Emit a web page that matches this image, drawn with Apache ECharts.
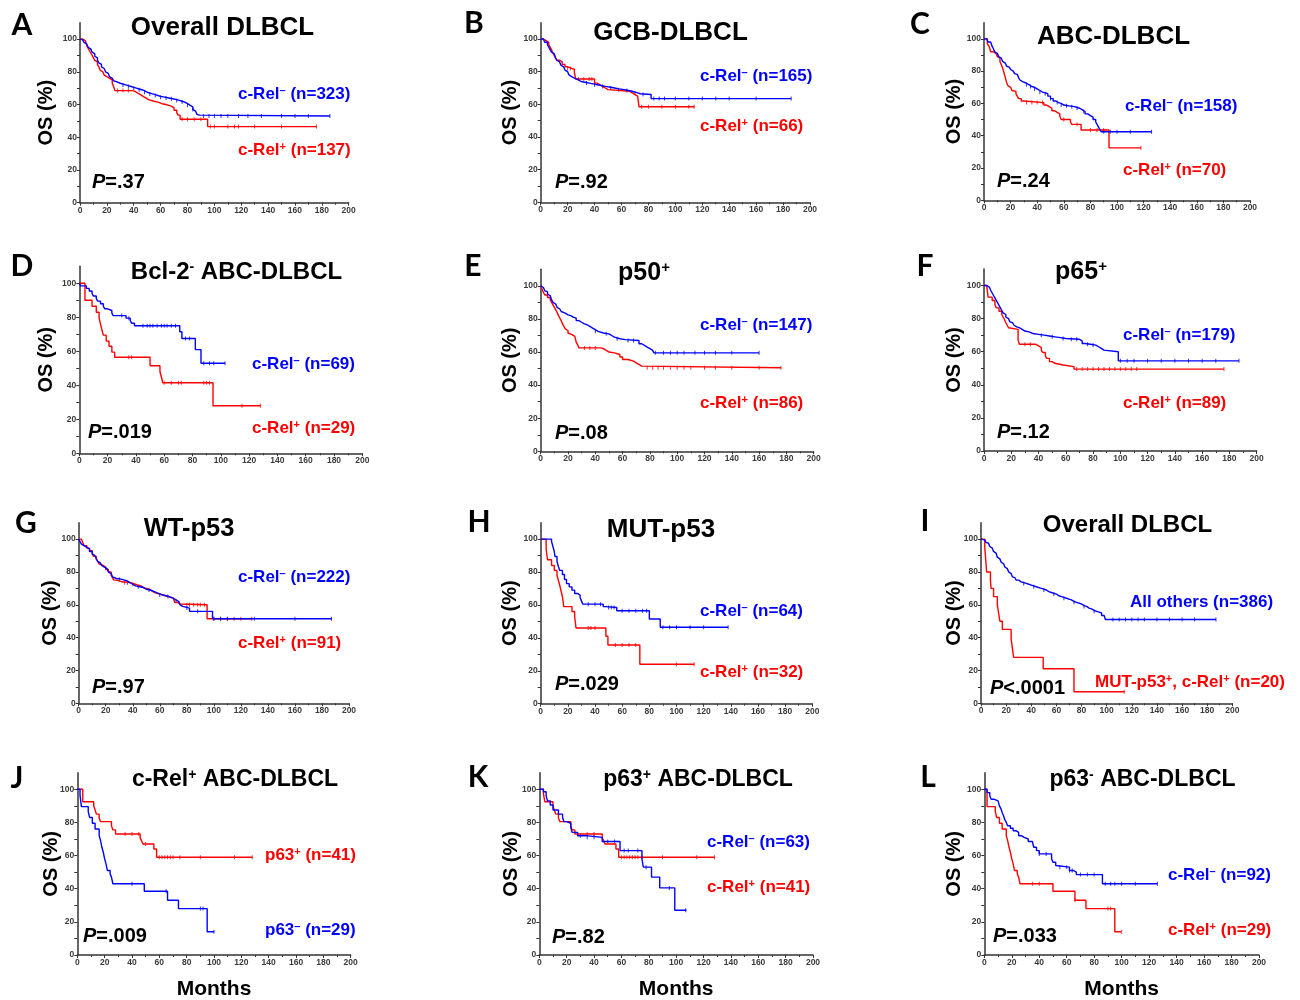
<!DOCTYPE html>
<html>
<head>
<meta charset="utf-8">
<script src="https://cdn.jsdelivr.net/npm/echarts@6/dist/echarts.min.js"></script>
<style>
html, body { margin: 0; padding: 0; background: #fff; }
#main { width: 1300px; height: 1000px; }
</style>
</head>
<body>
<div id="main"></div>
<script>
// ---- 生存曲线数据 [月, OS%] ----
var aNeg = [[0,100],[1,99.5],[2,99],[3,98],[4,97],[5,96],[6,95],[7,94],[8,93],[9,92],[10,91],[11,89.5],[12,88.5],[13,87],[14,85.5],[15,84.5],[16,83],[17,82],[18,81],[19,80],[20,79],[21,78],[22,77],[23,76],[24,75.5],[25,74.5],[26,74],[27,73.5],[28,73],[30,72.5],[32,72],[34,71.5],[36,71],[38,70.5],[40,70],[42,69.5],[44,69],[46,68.5],[48,67.5],[50,67],[52,66.5],[54,66],[56,65.5],[58,65],[60,64.5],[63,64],[66,63.5],[69,63],[72,62.5],[74,62],[76,61.5],[78,60.5],[80,59.5],[82,58.5],[84,57],[85,56],[86,55],[87,54],[88,53.5],[89,53],[186,53]];
var aPos = [[0,100],[2,99],[4,98],[5,96],[6,94.5],[7,93],[8,91.5],[9,90],[10,88.5],[11,87],[12,86],[13,84.5],[14,83],[15,81],[16,80],[17,79],[18,78],[19,77],[20,76],[22,75],[24,73],[25,71],[26,68.5],[39,68],[41,67],[43,66],[45,65],[47,64],[49,63],[51,62],[55,61.5],[58,60.5],[61,60],[64,59.5],[66,59],[68,58],[70,56.5],[72,55],[73,53.5],[74.5,51],[95,46.5],[176,46.5]];
var bNeg = [[0,100],[2,99],[3,98],[5,96.5],[6,95],[7,93.5],[8,92],[9,91],[10,90],[11,88.5],[12,87],[13,86],[14,85],[15,84],[16,83],[17,82],[18,81],[19,80],[20,79],[21,78],[22,77],[23,76.5],[24,76],[25,75.5],[26,75],[28,74],[30,73.5],[33,73],[36,72.5],[39,72],[42,71.5],[45,71],[48,70.5],[52,70],[55,69.5],[58,69],[62,68.5],[65,68],[68,67.5],[70,67],[72,66.5],[74,66],[82,63.5],[186,63.5]];
var bPos = [[0,100],[2,99],[4,98],[6,96.5],[7,95],[8,93.5],[9,91.5],[10,90],[11,88.5],[12,87],[14,86],[16,84.5],[18,83],[20,82],[23,81.5],[25,79.5],[26,75.5],[40,73],[42,72],[44,71],[46,70],[48,69],[50,68],[66,67],[68,66],[70,65],[72,64.5],[73,58.5],[114,58.5]];
var cNeg = [[0,100],[2,99],[3,98],[5,97],[6,95.5],[7,94],[8,92],[9,91],[10,90],[11,89],[12,88],[13,87],[14,86],[15,85],[16,84],[17,83],[18,82.5],[19,82],[20,81],[21,80],[22,79],[23,78.5],[24,78],[25,77],[26,76],[27,74.5],[28,73.5],[29,73],[30,72.5],[32,71.5],[34,70.5],[36,70],[38,69],[40,68],[42,67],[44,66.5],[46,66],[48,64.5],[50,63],[52,61.5],[54,60.5],[56,60],[58,59],[60,58.5],[64,58],[68,57.5],[70,57],[72,56],[74,55],[76,53.5],[78,52.5],[80,51.5],[82,50],[84,48.5],[85,47],[86,45.5],[87,44],[88,42.5],[126,42.5]];
var cPos = [[0,100],[2.5,97],[4,95],[5,92],[7,91],[9,90],[10,89],[11,88],[12,86],[13,84],[14,82],[15,79],[16,76],[17,73],[18,71],[19,70],[20,69],[21,68],[22,67.5],[24,66],[25,64.5],[26,63],[28,61.5],[30,60.5],[45,59],[47,58],[49,57],[51,55.5],[53,54.5],[55,53.5],[57,52],[58,50],[65,48.5],[66,47],[73,43.5],[94,32.5],[118,32.5]];
var dNeg = [[0,100],[1,98.5],[5,97],[7,95.5],[9,94],[10,92.5],[12,91],[13,89.5],[15,88],[17,86.5],[18,85],[20,84],[23,82.5],[24,81],[33,79.5],[36,78],[37,76.5],[39,75],[71,71.5],[72.5,67.5],[82,61],[86,53],[103,53]];
var dPos = [[0,100],[4,90],[9,86.5],[12,83],[14,79.5],[15,76],[16,72.5],[17,69.5],[19,66],[21,63],[23,59.5],[25,56.5],[50,51.5],[57,48],[58,45],[59,41.5],[94.5,28],[128,28]];
var eNeg = [[0,100],[1,99],[2,98],[3,97],[4,96.5],[5,95],[6,94],[7,93],[8,91.5],[9,90],[10,89],[11,88],[12,87],[13,86],[14,85.5],[15,84.5],[16,83.5],[18,82.5],[20,82],[22,81],[24,80.5],[26,79],[28,78],[30,77],[32,76.5],[34,75.5],[36,74.5],[38,73.5],[40,72.5],[42,71.5],[46,71],[50,70],[52,69],[54,68],[58,67.5],[62,67],[72,65],[74,64],[76,63],[78,62],[80,61],[82,60],[83,59.5],[160,59.5]];
var ePos = [[0,100],[1,98],[2,96],[3,94.5],[5,93],[7,91.5],[8,90],[9,88.5],[10,87],[11,85.5],[12,84],[13,82],[14,80.5],[15,79],[16,77],[17,75.5],[18,74],[19,73],[20,71.5],[21,70.5],[23,69.5],[25,68.5],[26,66],[27,64.5],[28,62.5],[44,62],[46,61],[48,60],[50,59.5],[54,58.5],[58,57],[60,55.5],[64,54.5],[68,53.5],[70,52.5],[72,51.5],[74,50.5],[176,50.5]];
var fNeg = [[0,100],[2,99.5],[3,99],[4,98],[5,97],[6,95.5],[7,94],[8,92.5],[9,91],[10,89.5],[11,88],[12,86.5],[13,85],[14,83.5],[15,82.5],[16,81],[17,80],[18,79],[19,78],[20,77.5],[21,76.5],[22,76],[23,75],[24,74.5],[26,73.5],[28,72.5],[30,72],[33,71],[36,70.5],[40,70],[44,69.5],[48,69],[52,68.5],[56,68],[60,67.5],[70,66.5],[72,65],[74,64.5],[78,64],[82,63],[84,62],[86,61],[88,60],[98.5,54.5],[187,54.5]];
var fPos = [[0,100],[2,99.5],[3,93],[6,91],[8,88.5],[9,86.5],[11,84.5],[13,82.5],[14,81],[15,79.5],[16,77.5],[17,76],[18,74.5],[19,73.5],[25,67],[26,64.5],[38,63.5],[40,62.5],[42,61],[43,59.5],[45,57.5],[46,56],[48,54],[50,53],[52,52],[58,51],[66,49.5],[176,49.5]];
var gNeg = [[0,100],[1,98.5],[2,97],[3,96],[4,95],[6,94],[8,92.5],[10,91],[11,90],[12,89],[13,88],[14,86.5],[15,85.5],[16,84.5],[17,84],[18,83],[19,82.5],[20,82],[21,81],[22,80],[23,79],[24,78],[25,77],[26,76],[28,75.5],[32,75],[34,74.5],[36,73.5],[38,72.5],[40,71.5],[42,71],[45,70.5],[48,69.5],[50,69],[53,68],[56,67],[59,66],[62,65.5],[65,65],[67,64],[70,63],[72,62],[74,61],[75,60],[76,59],[77,58],[82,56],[99,51.5],[187,51.5]];
var gPos = [[0,100],[2,99],[3,98],[4,96],[6,94.5],[8,93],[10,91],[11,89.5],[13,88],[14,86.5],[15,85],[16,84],[18,83],[20,81.5],[22,80],[24,78],[25,76.5],[26,75],[28,74],[32,73.5],[38,73],[40,72.5],[42,72],[44,71.5],[46,70.5],[48,70],[50,69.5],[52,68.5],[54,67.5],[56,67],[58,66.5],[60,66],[62,65.5],[64,65],[66,64.5],[68,64],[70,63],[71,61.5],[73,60.5],[75,60],[95,51.5],[128,51.5]];
var hNeg = [[0,100],[8,98.5],[9,95.5],[10,92.5],[10.5,89.5],[12,86.5],[13,83.5],[14,81],[16,78.5],[17.5,75.5],[19,73],[21,71],[23,69],[25,67],[27,66],[29,64.5],[30,62.5],[31,60.5],[46,59],[48,58.5],[56,56.5],[80,51.5],[88,46.5],[138,46.5]];
var hPos = [[0,100],[4,94],[5,87.5],[8,84],[10,81],[12,78],[13,75],[14,72],[15,68.5],[16,65],[17,59],[23,56],[25,53],[26,46],[48,41],[49.5,35.7],[73,24],[113,24]];
var iOthers = [[0,100],[1,99.5],[3,99],[4,98],[5,97.5],[6,96.5],[7,95.5],[8,94.5],[9,93.5],[10,92.5],[11,91.5],[12,90.5],[13,89],[14,88],[15,87],[16,86],[17,85],[18,84],[19,83],[20,82],[21,81],[22,80],[23,79],[24,78],[25,77],[26,76.5],[27,75.5],[28,75],[30,74],[32,73.5],[34,73],[36,72.5],[38,72],[40,71.5],[42,71],[44,70.5],[46,70],[48,69.5],[50,69],[52,68],[54,67.5],[56,67],[58,66.5],[60,65.5],[62,65],[64,64.5],[66,64],[68,63.5],[70,63],[72,62],[74,61.5],[76,61],[78,60.5],[80,59.5],[82,59],[84,58],[86,57.5],[88,56.5],[90,56],[92,55.5],[94,55],[96,53.5],[98,52.5],[99,51],[187,51]];
var iMutRel = [[0,100],[3,95],[3.5,90],[4,85],[4.5,80],[7.5,75],[8,70],[10,65],[13,60],[14,55],[15,50],[17,45],[24,39],[25,33.5],[26,28],[49.5,21],[74,7],[114,7]];
var jP63Pos = [[0,100],[4,92.5],[12,90],[13,87.5],[14,85],[16,82.5],[17,80.5],[25,78],[26,75.5],[28,73],[46,70.5],[47,69],[48,67],[56,64],[58,59],[128,59]];
var jP63Neg = [[0,100],[2,96.5],[3,89.5],[8,86.5],[9,83],[11,79.5],[13,76],[16,72],[17,69],[18,65],[19,62],[20,58],[21,55],[22,51],[24,49],[25,47],[26,43],[49,38.5],[66,33],[74,28],[95,14],[100,14]];
var kNeg = [[0,100],[3,98.5],[5,96],[6,93],[8,90.5],[10,87.5],[14,85],[17,83],[18,80.5],[20,79.5],[23,77],[24,74],[28,72],[34,71],[46,68.5],[59,63],[75,58],[76,53],[82,47],[88,40.5],[99,27],[107.5,27]];
var kPos = [[0,100],[3,97.5],[4,92.5],[10,90],[11,87.5],[12,85],[14,82.5],[15,80.5],[23,78],[24,75.5],[26,73],[46,70.5],[47,69],[48,67],[56,64],[58,59],[128,59]];
var lNeg = [[0,100],[2,98],[4,96],[5,94],[7,93],[10,92],[11,90],[12,88.5],[13,86],[14,84],[15,81.5],[16,80],[17,78],[19,76.5],[21,75],[23,74],[25,72],[27,71],[29,70],[32,68.5],[35,67.5],[36,65],[38,63],[40,61],[49,58],[50,56],[52,54],[53,53],[62,51],[65,50],[67,48.5],[86,43],[126,43]];
var lPos = [[0,100],[2,89.5],[8,86.5],[9,83],[11,79.5],[13,76],[16,72],[17,69],[18,65],[19,62],[20,58],[21,55],[22,51],[24,49],[25,47],[26,43],[50,38.5],[66,33],[74,28],[95,14],[99.5,14]];

// 删失时间（月）
var aNegCens = [32,36,40,44,48,52,56,60,64,68,72,76,80,84,92,96,100,105,110,118,125,135,150,160,170,186];
var aPosCens = [28,32,36,76,80,85,90,97,100,110,115,118,130,150,176];
var bNegCens = [34,40,46,52,58,64,70,76,84,88,92,100,110,120,130,140,160,186];
var bPosCens = [20,22,28,32,36,38,75,80,90,100,110,114];
var cNegCens = [32,35,38,42,46,50,55,58,62,66,70,75,90,95,100,110,126];
var cPosCens = [32,36,40,44,60,70,80,85,90,118];
var dNegCens = [30,35,45,48,50,52,55,58,60,62,65,68,75,78,88,92,95,103];
var dPosCens = [35,37,60,65,70,72,88,90,92,115,128];
var eNegCens = [40,48,56,64,68,84,90,95,100,105,113,120,128,140,160];
var ePosCens = [32,36,40,78,82,86,90,95,100,105,110,120,128,140,160,176];
var fNegCens = [42,50,58,64,68,76,80,100,105,110,120,130,140,150,160,170,187];
var fPosCens = [30,34,68,72,76,80,84,88,92,96,100,104,108,112,176];
var gNegCens = [30,36,44,52,60,66,72,80,88,100,105,110,130,160,187];
var gPosCens = [34,40,80,82,85,88,90,93,100,105,110,115,120,128];
var hNegCens = [35,40,44,50,52,54,60,65,70,75,78,90,95,100,110,120,138];
var hPosCens = [35,37,40,55,60,65,70,100,113];
var iOthersCens = [34,42,50,58,66,74,82,90,105,110,115,120,125,130,140,150,160,170,187];
var iMutRelCens = [114];
var jP63PosCens = [35,40,45,50,60,62,64,66,68,70,75,90,115,128];
var jP63NegCens = [40,65,90,92,100];
var kNegCens = [30,35,40,50,55,62,65,72,78,95,107];
var kPosCens = [35,40,60,62,64,66,68,70,72,75,90,115,128];
var lNegCens = [40,45,55,60,62,64,70,75,80,88,92,95,100,110,126];
var lPosCens = [35,40,66,90,92,100];

// 坐标轴刻度
var yLabelValues = [0, 20, 40, 60, 80, 100];
var yTickValues = [0, 10, 20, 30, 40, 50, 60, 70, 80, 90, 100];

// 文字
var panelLetters = ['A','B','C','D','E','F','G','H','I','J','K','L'];
var panelTitles = ['Overall DLBCL', 'GCB-DLBCL', 'ABC-DLBCL', 'Bcl-2{s|-} ABC-DLBCL', 'p50{s|+}', 'p65{s|+}',
    'WT-p53', 'MUT-p53', 'Overall DLBCL', 'c-Rel{s|+} ABC-DLBCL', 'p63{s|+} ABC-DLBCL', 'p63{s|-} ABC-DLBCL'];
var blueLabels = ['c-Rel{s|–} (n=323)', 'c-Rel{s|–} (n=165)', 'c-Rel{s|–} (n=158)', 'c-Rel{s|–} (n=69)', 'c-Rel{s|–} (n=147)', 'c-Rel{s|–} (n=179)',
    'c-Rel{s|–} (n=222)', 'c-Rel{s|–} (n=64)', 'All others (n=386)', 'p63{s|–} (n=29)', 'c-Rel{s|–} (n=63)', 'c-Rel{s|–} (n=92)'];
var redLabels = ['c-Rel{s|+} (n=137)', 'c-Rel{s|+} (n=66)', 'c-Rel{s|+} (n=70)', 'c-Rel{s|+} (n=29)', 'c-Rel{s|+} (n=86)', 'c-Rel{s|+} (n=89)',
    'c-Rel{s|+} (n=91)', 'c-Rel{s|+} (n=32)', 'MUT-p53{s|+}, c-Rel{s|+} (n=20)', 'p63{s|+} (n=41)', 'c-Rel{s|+} (n=41)', 'c-Rel{s|+} (n=29)'];
var pValues = ['=.37', '=.92', '=.24', '=.019', '=.08', '=.12', '=.97', '=.029', '<.0001', '=.009', '=.82', '=.033'];

var blueSeries = [aNeg, bNeg, cNeg, dNeg, eNeg, fNeg, gNeg, hNeg, iOthers, jP63Neg, kNeg, lNeg];
var redSeries = [aPos, bPos, cPos, dPos, ePos, fPos, gPos, hPos, iMutRel, jP63Pos, kPos, lPos];
var blueCens = [aNegCens, bNegCens, cNegCens, dNegCens, eNegCens, fNegCens, gNegCens, hNegCens, iOthersCens, jP63NegCens, kNegCens, lNegCens];
var redCens = [aPosCens, bPosCens, cPosCens, dPosCens, ePosCens, fPosCens, gPosCens, hPosCens, iMutRelCens, jP63PosCens, kPosCens, lPosCens];

// 布局（像素）
var layout = [
    { x0: 80,    x1: 348.7,  top: 22.7,  y0: 202.7, letter: [22, 25],   title: [222.5, 28, 26],  blue: [238, 94],   red: [238, 150],  p: [92, 182] },
    { x0: 540.7, x1: 810,    top: 22.7,  y0: 202.3, letter: [474, 23],  title: [670.5, 33, 26],  blue: [700, 76],   red: [700, 126],  p: [555, 182] },
    { x0: 984,   x1: 1250,   top: 22.7,  y0: 200.3, letter: [920, 24],  title: [1113.5, 37, 26], blue: [1125, 106], red: [1123, 170], p: [997, 181] },
    { x0: 79.3,  x1: 362.3,  top: 266.3, y0: 453.3, letter: [22, 266],  title: [236.5, 272, 24], blue: [252, 364],  red: [252, 428],  p: [88, 432] },
    { x0: 540.7, x1: 813.7,  top: 269.3, y0: 451.3, letter: [473, 266], title: [644, 273, 25],   blue: [700, 325],  red: [700, 403],  p: [555, 433] },
    { x0: 984,   x1: 1256.7, top: 269,   y0: 451,   letter: [925, 266], title: [1081, 272, 25],  blue: [1123, 335], red: [1123, 403], p: [997, 432] },
    { x0: 78.7,  x1: 349,    top: 522.7, y0: 703.3, letter: [26, 523],  title: [189, 528.5, 25.5], blue: [238, 577], red: [238, 643],  p: [92, 687] },
    { x0: 540.7, x1: 812.3,  top: 522.7, y0: 703.7, letter: [479, 522], title: [661, 530, 26],   blue: [700, 611],  red: [700, 672],  p: [555, 684] },
    { x0: 981,   x1: 1232.3, top: 522.7, y0: 703.3, letter: [925, 521], title: [1127.5, 525, 24], blue: [1130, 602], red: [1095, 682], p: [990, 688] },
    { x0: 77.3,  x1: 350.7,  top: 772.7, y0: 955,   letter: [17, 778],  title: [235, 780, 23],   blue: [265, 930],  red: [265, 855],  p: [83, 936] },
    { x0: 539.3, x1: 813,    top: 772.7, y0: 955,   letter: [478, 777], title: [698, 780, 23],   blue: [707, 842],  red: [707, 887],  p: [552, 937] },
    { x0: 984.3, x1: 1259,   top: 772.7, y0: 955,   letter: [928, 777], title: [1142.5, 780, 23], blue: [1168, 875], red: [1168, 930], p: [993, 936] }
];
var osGap = [34, 30, 30, 33, 30, 30, 28, 30, 27, 26, 28, 30];

var BLUE = '#0000ff';
var RED = '#ff0000';
var AXIS = '#333';
var FONT = '"Liberation Sans", Arial, sans-serif';

// 删失点落在曲线上：取该时间点的生存率
function onCurve(curve, times) {
    return times.map(function (t) {
        var y = curve[0][1];
        for (var k = 0; k < curve.length && curve[k][0] <= t; k++) y = curve[k][1];
        return [t, y];
    });
}

(function () {
    var grids = [], xAxes = [], yAxes = [], series = [], texts = [];

    layout.forEach(function (p, i) {
        grids.push({ left: p.x0, top: p.top, width: p.x1 - p.x0, height: p.y0 - p.top });

        xAxes.push({
            gridIndex: i, type: 'value', min: 0, max: 200, interval: 20,
            axisLine: { lineStyle: { color: AXIS, width: 1.5 } },
            axisTick: { length: 3, lineStyle: { color: AXIS, width: 1 } },
            minorTick: { show: true, splitNumber: 2, length: 2, lineStyle: { color: AXIS, width: 1 } },
            axisLabel: { fontSize: 8.5, fontWeight: 'bold', color: '#3a3a3a', margin: 3, fontFamily: FONT },
            splitLine: { show: false }
        });
        yAxes.push({
            gridIndex: i, type: 'value', min: 0, max: 110, interval: 10,
            axisLine: { show: true, lineStyle: { color: AXIS, width: 1.5 } },
            axisTick: { show: true, length: 3, customValues: yTickValues, lineStyle: { color: AXIS, width: 1 } },
            axisLabel: { fontSize: 8.5, fontWeight: 'bold', color: '#3a3a3a', margin: 3, fontFamily: FONT, customValues: yLabelValues },
            splitLine: { show: false }
        });

        [[redSeries[i], redCens[i], RED], [blueSeries[i], blueCens[i], BLUE]].forEach(function (c) {
            series.push({
                type: 'line', xAxisIndex: i, yAxisIndex: i, data: c[0], step: 'end',
                symbol: 'none', lineStyle: { color: c[2], width: 1.4 }, itemStyle: { color: c[2] }, silent: true
            });
            series.push({
                type: 'scatter', xAxisIndex: i, yAxisIndex: i, data: onCurve(c[0], c[1]),
                symbol: 'rect', symbolSize: [1, 4], itemStyle: { color: c[2] }, silent: true
            });
        });

        // 面板字母
        texts.push({ type: 'text', x: p.letter[0], y: p.letter[1], silent: true, style: {
            text: panelLetters[i], fill: '#000', fontSize: 30, fontWeight: 'bold', fontFamily: 'Lato, "Open Sans", sans-serif',
            align: 'center', verticalAlign: 'middle' } });
        // 标题
        var ts = p.title[2];
        texts.push({ type: 'text', x: p.title[0], y: p.title[1], silent: true, style: {
            text: panelTitles[i], fill: '#000', fontSize: ts, fontWeight: 'bold', fontFamily: FONT,
            align: 'center', verticalAlign: 'middle',
            rich: { s: { fontSize: Math.round(ts * 0.6), fontWeight: 'bold', fontFamily: FONT, fill: '#000', verticalAlign: 'top' } } } });
        // 图例文字
        [[blueLabels[i], p.blue, BLUE], [redLabels[i], p.red, RED]].forEach(function (l) {
            texts.push({ type: 'text', x: l[1][0], y: l[1][1], silent: true, style: {
                text: l[0], fill: l[2], fontSize: 17, fontWeight: 'bold', fontFamily: FONT,
                align: 'left', verticalAlign: 'middle',
                rich: { s: { fontSize: 11, fontWeight: 'bold', fontFamily: FONT, fill: l[2], verticalAlign: 'top' } } } });
        });
        // P 值
        texts.push({ type: 'text', x: p.p[0], y: p.p[1], silent: true, style: {
            text: '{i|P}' + pValues[i], fill: '#000', fontSize: 20, fontWeight: 'bold', fontFamily: FONT,
            align: 'left', verticalAlign: 'middle',
            rich: { i: { fontSize: 20, fontWeight: 'bold', fontStyle: 'italic', fontFamily: FONT, fill: '#000' } } } });
        // OS (%)
        texts.push({ type: 'text', x: p.x0 - osGap[i], y: (p.top + p.y0) / 2, rotation: Math.PI / 2, silent: true, style: {
            text: 'OS (%)', fill: '#000', fontSize: 20, fontWeight: 'bold', fontFamily: FONT,
            align: 'center', verticalAlign: 'middle' } });
        // Months（最后一行）
        if (i >= 9) {
            texts.push({ type: 'text', x: (p.x0 + p.x1) / 2, y: 989, silent: true, style: {
                text: 'Months', fill: '#000', fontSize: 21, fontWeight: 'bold', fontFamily: FONT,
                align: 'center', verticalAlign: 'middle' } });
        }
    });

    var chart = echarts.init(document.getElementById('main'));
    chart.setOption({
        backgroundColor: '#fff',
        animation: false,
        grid: grids,
        xAxis: xAxes,
        yAxis: yAxes,
        series: series,
        graphic: texts
    });
})();
</script>
</body>
</html>
